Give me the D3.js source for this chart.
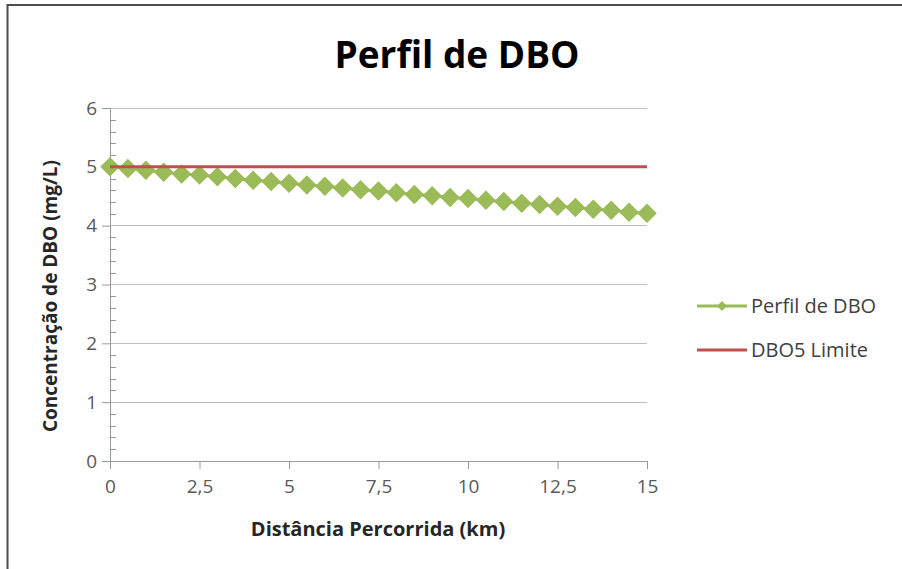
<!DOCTYPE html>
<html><head><meta charset="utf-8">
<script src="https://cdn.jsdelivr.net/npm/d3@7"></script>
<style>body{margin:0;background:#fff;} svg{display:block;}</style>
</head><body>
<svg id="c" width="902" height="569"></svg>
<script>
const distances = [0,0.5,1,1.5,2,2.5,3,3.5,4,4.5,5,5.5,6,6.5,7,7.5,8,8.5,9,9.5,10,10.5,11,11.5,12,12.5,13,13.5,14,14.5,15];
const dboValues = [5.00,4.97,4.94,4.91,4.88,4.86,4.83,4.80,4.77,4.75,4.72,4.69,4.67,4.64,4.61,4.59,4.56,4.53,4.51,4.48,4.46,4.43,4.41,4.38,4.36,4.33,4.31,4.28,4.26,4.23,4.21];
const limitValue = 5;
const xTicks = [0,2.5,5,7.5,10,12.5,15];
const yTicks = [0,1,2,3,4,5,6];
const seriesNames = ["Perfil de DBO","DBO5 Limite"];
const title = "Perfil de DBO";
const xTitle = "Distância Percorrida (km)";
const yTitle = "Concentração de DBO (mg/L)";

const svg = d3.select("#c");
const font = "'Open Sans', sans-serif";
// outer frame
svg.append("rect").attr("x",7.5).attr("y",5).attr("width",1000).attr("height",1000)
  .attr("fill","none").attr("stroke","#4d4d4d").attr("stroke-width",2);

const x = d3.scaleLinear().domain([0,15]).range([110,647]);
const y = d3.scaleLinear().domain([0,6]).range([461,108]);

// gridlines
svg.append("g").selectAll("line").data(yTicks.filter(d=>d>0)).join("line")
  .attr("x1",x(0)).attr("x2",x(15)).attr("y1",d=>y(d)).attr("y2",d=>y(d))
  .attr("stroke","#bfbfbf").attr("stroke-width",1).attr("shape-rendering","crispEdges");

// minor y ticks
const minor = d3.range(0,6.001,0.2).filter(v=>Math.abs(v-Math.round(v))>1e-6);
svg.append("g").selectAll("line").data(minor).join("line")
  .attr("x1",x(0)).attr("x2",x(0)+6).attr("y1",d=>Math.round(y(d))+0.5).attr("y2",d=>Math.round(y(d))+0.5)
  .attr("stroke","#9a9a9a").attr("stroke-width",1);

// y axis
const yAxis = svg.append("g").attr("transform",`translate(${x(0)},0)`)
  .call(d3.axisLeft(y).tickValues(yTicks).tickSize(8).tickPadding(5).tickFormat(d3.format("d")));
yAxis.select(".domain").attr("stroke","#9a9a9a");
yAxis.selectAll(".tick line").attr("stroke","#9a9a9a");
yAxis.selectAll("text").attr("font-family",font).attr("font-size",19).attr("fill","#595959");

// x axis
const fmt = d => String(d).replace(".",",");
const xAxis = svg.append("g").attr("transform",`translate(0,${y(0)})`)
  .call(d3.axisBottom(x).tickValues(xTicks).tickSize(8).tickPadding(11).tickFormat(fmt));
xAxis.select(".domain").attr("stroke","#9a9a9a");
xAxis.selectAll(".tick line").attr("stroke","#9a9a9a");
xAxis.selectAll("text").attr("font-family",font).attr("font-size",19).attr("fill","#595959");

const limitData = distances.map(d=>({x:d,y:limitValue}));
const lineGen = d3.line().x(d=>x(d.x)).y(d=>y(d.y));

// DBO series
const dboData = distances.map((d,i)=>({x:d,y:dboValues[i]}));
svg.append("path").datum(dboData).attr("d",lineGen)
  .attr("fill","none").attr("stroke","#9bbb59").attr("stroke-width",3);
svg.append("g").selectAll("path").data(dboData).join("path")
  .attr("transform",d=>`translate(${x(d.x)},${y(d.y)}) rotate(45)`)
  .attr("d",d3.symbol().type(d3.symbolSquare).size(190))
  .attr("fill","#9bbb59");

// limit line
svg.append("path").datum(limitData).attr("d",lineGen)
  .attr("fill","none").attr("stroke","#c0504d").attr("stroke-width",3);

// titles
svg.append("text").attr("x",457).attr("y",68).attr("text-anchor","middle")
  .attr("font-family",font).attr("font-weight","bold").attr("font-size",37).attr("fill","#000").text(title);
svg.append("text").attr("x",378).attr("y",536).attr("text-anchor","middle")
  .attr("font-family",font).attr("font-weight","bold").attr("font-size",20).attr("fill","#262626").text(xTitle);
svg.append("text").attr("transform","translate(57,296) rotate(-90)").attr("text-anchor","middle")
  .attr("font-family",font).attr("font-weight","bold").attr("font-size",19).attr("fill","#262626").text(yTitle);

// legend
const colors = ["#9bbb59","#c0504d"];
const lg = svg.append("g");
seriesNames.forEach((name,i)=>{
  const yy = 306 + i*44;
  lg.append("line").attr("x1",697).attr("x2",747).attr("y1",yy).attr("y2",yy)
    .attr("stroke",colors[i]).attr("stroke-width",3);
  if(i===0){
    lg.append("path").attr("transform",`translate(722,${yy}) rotate(45)`)
      .attr("d",d3.symbol().type(d3.symbolSquare).size(50)).attr("fill",colors[i]);
  }
  lg.append("text").attr("x",751).attr("y",yy+7).attr("font-family",font)
    .attr("font-size",20).attr("fill","#404040").text(name);
});
</script>
</body></html>
